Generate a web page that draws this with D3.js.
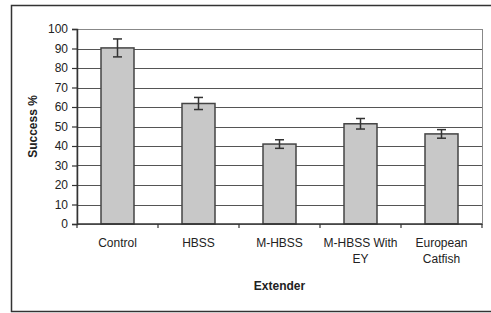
<html>
<head>
<script src="https://d3js.org/d3.v7.min.js"></script>
<style>
body { margin: 0; background: #fff; }
text { font-family: "Liberation Sans", Arial, sans-serif; fill: #222; }
</style>
</head>
<body>
<script>
var categories = [["Control"], ["HBSS"], ["M-HBSS"], ["M-HBSS With", "EY"], ["European", "Catfish"]];
var values = [90.3, 61.8, 41, 51.4, 46.2];
var errors = [4.6, 3.1, 2.2, 2.7, 2.2];
var yTicks = [0, 10, 20, 30, 40, 50, 60, 70, 80, 90, 100];

var w = 491, h = 313;
var mLeft = 77, mRight = 482, mTop = 29, mBottom = 224;

var svg = d3.select("body").append("svg").attr("width", w).attr("height", h);

// outer frame
svg.append("rect").attr("x", 11.5).attr("y", 5.5).attr("width", 490).attr("height", 306)
  .attr("fill", "none").attr("stroke", "#333").attr("stroke-width", 1.5);

var xCat = d3.scaleBand().domain(d3.range(categories.length)).range([mLeft, mRight]);
var y = d3.scaleLinear().domain([0, 100]).range([mBottom, mTop]);

// plot border
svg.append("rect").attr("x", mLeft).attr("y", mTop + 0.5).attr("width", mRight - mLeft + 0.5).attr("height", mBottom - mTop)
  .attr("fill", "none").attr("stroke", "#888").attr("stroke-width", 1);

// gridlines
svg.append("g").selectAll("line").data(yTicks.slice(1, -1)).join("line")
  .attr("x1", mLeft).attr("x2", mRight)
  .attr("y1", function(d){ return Math.round(y(d)) + 0.5; })
  .attr("y2", function(d){ return Math.round(y(d)) + 0.5; })
  .attr("stroke", "#555").attr("stroke-width", 1.2);

// bars
svg.append("g").selectAll("rect").data(values).join("rect")
  .attr("x", function(d, i){ return xCat(i) + xCat.bandwidth() / 2 - 16.5; })
  .attr("y", function(d){ return y(d); })
  .attr("width", 33)
  .attr("height", function(d){ return mBottom - y(d); })
  .attr("fill", "#c8c8c8").attr("stroke", "#444").attr("stroke-width", 1.5);

// error bars
var eb = svg.append("g").attr("stroke", "#333").attr("stroke-width", 1.5);
values.forEach(function(v, i){
  var cx = xCat(i) + xCat.bandwidth() / 2;
  eb.append("line").attr("x1", cx).attr("x2", cx).attr("y1", y(v + errors[i])).attr("y2", y(v - errors[i]));
  eb.append("line").attr("x1", cx - 4.5).attr("x2", cx + 4.5).attr("y1", y(v + errors[i])).attr("y2", y(v + errors[i]));
  eb.append("line").attr("x1", cx - 4.5).attr("x2", cx + 4.5).attr("y1", y(v - errors[i])).attr("y2", y(v - errors[i]));
});

// y axis
var yAxis = d3.axisLeft(y).tickValues(yTicks).tickSize(5).tickPadding(4);
var ya = svg.append("g").attr("transform", "translate(" + mLeft + ",0)").call(yAxis);
ya.select(".domain").attr("stroke", "#333").attr("stroke-width", 1.5);
ya.selectAll(".tick line").attr("stroke", "#333").attr("stroke-width", 1.2);
ya.selectAll("text").attr("font-size", 12).attr("fill", "#222")
  .style("font-family", "'Liberation Sans', Arial, sans-serif");

// x axis
var xa = svg.append("g").attr("transform", "translate(0," + mBottom + ")");
xa.append("line").attr("x1", mLeft).attr("x2", mRight).attr("stroke", "#333").attr("stroke-width", 1.5);
xa.selectAll("line.tk").data(d3.range(categories.length + 1)).join("line").attr("class", "tk")
  .attr("x1", function(d){ return mLeft + d * xCat.step(); })
  .attr("x2", function(d){ return mLeft + d * xCat.step(); })
  .attr("y1", 0).attr("y2", 4).attr("stroke", "#333").attr("stroke-width", 1.2);
categories.forEach(function(lines, i){
  var t = xa.append("text").attr("text-anchor", "middle").attr("font-size", 12)
    .attr("x", xCat(i) + xCat.bandwidth() / 2).attr("y", 23);
  lines.forEach(function(s, j){
    t.append("tspan").attr("x", xCat(i) + xCat.bandwidth() / 2).attr("dy", j ? 16 : 0).text(s);
  });
});

// axis titles
svg.append("text").attr("x", (mLeft + mRight) / 2).attr("y", 290).attr("text-anchor", "middle")
  .attr("font-size", 12).attr("font-weight", "bold").text("Extender");
svg.append("text").attr("transform", "translate(37," + ((mTop + mBottom) / 2) + ") rotate(-90)")
  .attr("text-anchor", "middle").attr("font-size", 12).attr("font-weight", "bold").text("Success %");
</script>
</body>
</html>
